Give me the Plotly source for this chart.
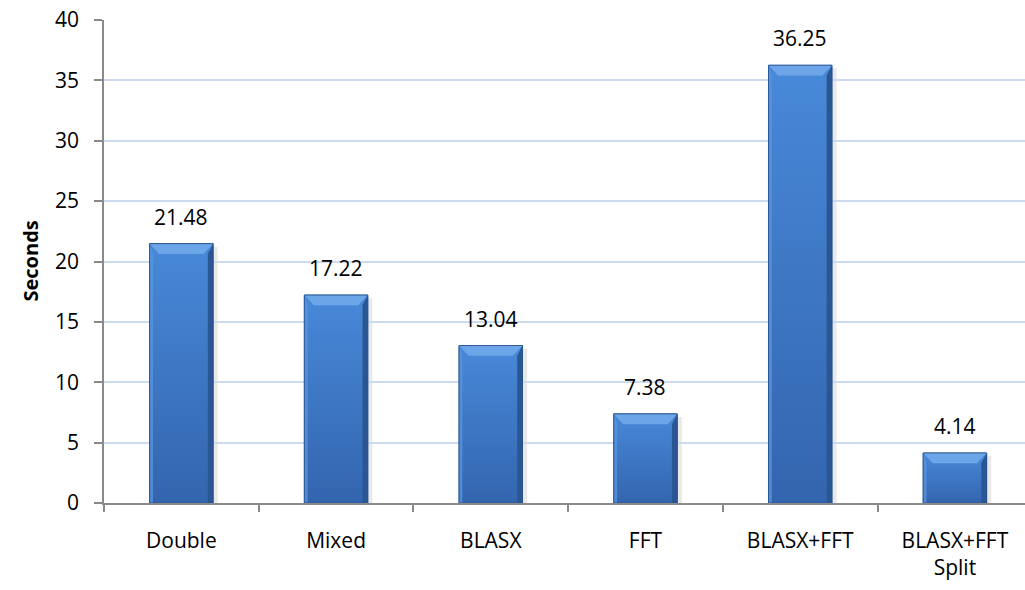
import plotly.graph_objects as go

# Benchmark timings
categories = ["Double", "Mixed", "BLASX", "FFT", "BLASX+FFT", "BLASX+FFT<br>Split"]
seconds = [21.48, 17.22, 13.04, 7.38, 36.25, 4.14]
y_ticks = [0, 5, 10, 15, 20, 25, 30, 35, 40]

FONT = "Open Sans"
BAR_HALF = 0.205          # half bar width in category units
BEVEL_X = 0.062           # bevel inset, category units
BEVEL_Y = 0.85            # bevel inset, seconds

xs = list(range(len(categories)))

fig = go.Figure()
fig.add_trace(go.Bar(
    x=xs, y=seconds, width=2 * BAR_HALF,
    marker=dict(color="#3F7BC8", line=dict(color="#2C5C9C", width=1)),
    hoverinfo="x+y",
))

# vertical shading of each bar face
for x, v in zip(xs, seconds):
    l, r = x - BAR_HALF, x + BAR_HALF
    fig.add_trace(go.Scatter(
        x=[l, r, r, l, l], y=[0, 0, v, v, 0],
        mode="lines", line=dict(width=0), fill="toself",
        fillgradient=dict(type="vertical", start=0, stop=v,
                          colorscale=[[0, "#3365AE"], [1, "#4889D9"]]),
        hoverinfo="skip", showlegend=False,
    ))

shapes = []
for x, v in zip(xs, seconds):
    l, r = x - BAR_HALF, x + BAR_HALF
    bx, by = BEVEL_X, min(BEVEL_Y, v / 3)
    # soft drop shadow on the right
    shapes.append(dict(type="rect", xref="x", yref="y", layer="below",
                       x0=r, x1=r + 0.03, y0=0, y1=v - by * 0.3,
                       fillcolor="rgba(120,120,120,0.16)", line=dict(width=0)))
    # top bevel (light)
    shapes.append(dict(type="path", xref="x", yref="y",
                       path=f"M {l} {v} L {r} {v} L {r - bx} {v - by} L {l + bx} {v - by} Z",
                       fillcolor="#6DA6E8", line=dict(width=0)))
    # left bevel
    shapes.append(dict(type="path", xref="x", yref="y",
                       path=f"M {l} {v} L {l + bx * 0.35} {v - by} L {l + bx * 0.35} 0 L {l} 0 Z",
                       fillcolor="rgba(90,150,222,0.75)", line=dict(width=0)))
    # right bevel (dark)
    shapes.append(dict(type="path", xref="x", yref="y",
                       path=f"M {r} {v} L {r - bx * 0.55} {v - by} L {r - bx * 0.55} 0 L {r} 0 Z",
                       fillcolor="#2A5793", line=dict(width=0)))
    # outline
    shapes.append(dict(type="rect", xref="x", yref="y",
                       x0=l, x1=r, y0=0, y1=v,
                       line=dict(color="rgba(38,80,140,0.8)", width=1)))

annotations = [
    dict(x=x, y=v, xref="x", yref="y", text=f"{v:.2f}", showarrow=False,
         yanchor="bottom", yshift=11, font=dict(family=FONT, size=21, color="#000000"))
    for x, v in zip(xs, seconds)
]
annotations.append(dict(
    xref="paper", yref="paper", x=0, y=0.5, xshift=-74, xanchor="center", yanchor="middle",
    text="<b>Seconds</b>", textangle=-90, showarrow=False,
    font=dict(family=FONT, size=20, color="#000000"),
))

fig.update_layout(
    width=1025, height=590,
    margin=dict(l=104, r=0, t=20, b=87),
    paper_bgcolor="white", plot_bgcolor="white",
    showlegend=False,
    shapes=shapes, annotations=annotations,
    font=dict(family=FONT, size=21, color="#000000"),
    xaxis=dict(
        range=[-0.5, 5.453],
        tickmode="array", tickvals=xs, ticktext=categories,
        ticks="", showgrid=False, zeroline=False,
        showline=True, linecolor="#8A8A8A", linewidth=1.5,
        ticklabelstandoff=18,
        minor=dict(tickmode="array", tickvals=[i - 0.5 for i in range(len(categories) + 1)],
                   ticks="outside", ticklen=7, tickcolor="#8A8A8A", tickwidth=1.5,
                   showgrid=False),
        tickfont=dict(family=FONT, size=21),
    ),
    yaxis=dict(
        range=[0, 40], tickmode="array", tickvals=y_ticks,
        ticks="outside", ticklen=8, tickcolor="#8A8A8A", tickwidth=1.5,
        showline=True, linecolor="#8A8A8A", linewidth=1.5,
        showgrid=True, gridcolor="#CCDBEF", gridwidth=2,
        zeroline=False, ticklabelstandoff=11,
        tickfont=dict(family=FONT, size=21),
    ),
)

fig.write_html("out.html")
